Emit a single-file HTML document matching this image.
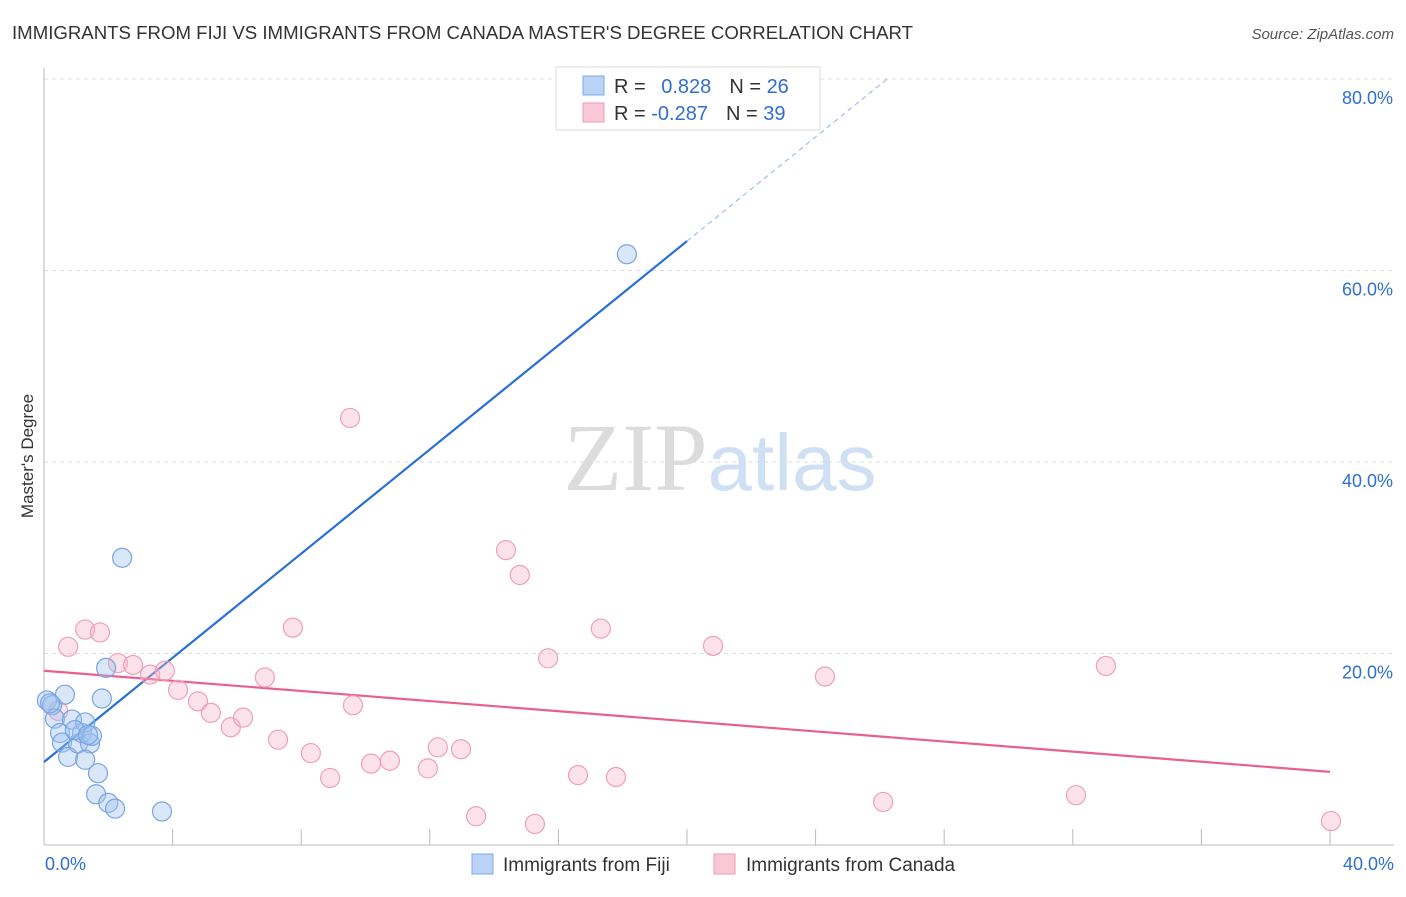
<!DOCTYPE html>
<html><head><meta charset="utf-8">
<style>
body{margin:0;background:#fff;font-family:"Liberation Sans",sans-serif;}
svg text{font-family:"Liberation Sans",sans-serif;}
</style></head>
<body>
<svg id="chart" width="1406" height="892" xmlns="http://www.w3.org/2000/svg">
<text x="12" y="39" font-size="18" fill="#333" textLength="901" lengthAdjust="spacingAndGlyphs">IMMIGRANTS FROM FIJI VS IMMIGRANTS FROM CANADA MASTER'S DEGREE CORRELATION CHART</text>
<text x="1394" y="39" font-size="15" fill="#555" text-anchor="end" font-style="italic">Source: ZipAtlas.com</text>
<text x="720" y="490" font-size="96" text-anchor="middle"><tspan fill="#dcdcdc" font-family="Liberation Serif">ZIP</tspan><tspan fill="#cfe0f5" font-size="80">atlas</tspan></text>
<text transform="translate(33,456) rotate(-90)" font-size="17" fill="#333" text-anchor="middle">Master's Degree</text>
<g id="grid"></g><g id="axes"></g><g id="lines"></g><g id="points"></g>
<g>
<rect x="556" y="67" width="264" height="63" fill="#fff" stroke="#ddd"/>
<rect x="583" y="76" width="21" height="19" fill="#b8d3f5" stroke="#7ea9e6"/>
<text x="614" y="93" font-size="20" fill="#333">R = <tspan fill="#2f6fd0" dx="10">0.828</tspan><tspan dx="18" fill="#333">N = </tspan><tspan fill="#2f6fd0">26</tspan></text>
<rect x="583" y="103" width="21" height="19" fill="#f9c7d5" stroke="#ee9ab4"/>
<text x="614" y="120" font-size="20" fill="#333">R = <tspan fill="#2f6fd0">-0.287</tspan><tspan dx="18" fill="#333">N = </tspan><tspan fill="#2f6fd0">39</tspan></text>
</g>
<g>
<rect x="472" y="854" width="21" height="20" fill="#b8d3f5" stroke="#7ea9e6"/>
<text x="503" y="871" font-size="19" fill="#333">Immigrants from Fiji</text>
<rect x="714" y="854" width="21" height="20" fill="#f9c7d5" stroke="#ee9ab4"/>
<text x="746" y="871" font-size="19" fill="#333">Immigrants from Canada</text>
</g>
</svg>
<script>
const fijiX=[0.09,0.25,0.65,0.34,0.5,0.87,0.56,0.75,1.06,1.18,1.28,1.43,1.49,1.28,1.68,1.62,2.0,2.21,1.8,1.93,2.43,3.67,18.13,0.19,0.96,1.37];
const fijiY=[15.1,14.6,15.7,13.2,11.7,13.1,10.7,9.2,10.6,11.7,12.8,10.6,11.4,8.9,7.5,5.3,4.4,3.8,15.3,18.5,30.0,3.5,61.7,14.8,12.0,11.5];
const canX=[0.75,1.28,1.74,2.3,2.77,3.3,3.76,4.17,4.79,5.19,5.81,6.19,6.87,7.28,7.74,8.3,8.9,9.52,9.61,10.17,10.76,11.94,12.25,12.97,13.44,14.37,14.8,15.27,15.68,16.61,17.32,17.79,20.81,24.29,26.1,32.1,33.03,40.03,0.44];
const canY=[20.7,22.5,22.2,19.0,18.8,17.8,18.2,16.2,15.0,13.8,12.3,13.3,17.5,11.0,22.7,9.6,7.0,44.6,14.6,8.5,8.8,8.0,10.2,10.0,3.0,30.8,28.2,2.2,19.5,7.3,22.6,7.1,20.8,17.6,4.5,5.2,18.7,2.5,14.0];
const yTicks=[20,40,60,80];
const yTickLabels=["20.0%","40.0%","60.0%","80.0%"];
const xTickLabels=["0.0%","40.0%"];
const fijiLine=[8.67,2.72]; const canLine=[18.2,-0.264];
const X=v=>44+v*32.15, Y=v=>845-v*9.575;
const NS="http://www.w3.org/2000/svg";
function mk(p,t,a){const e=document.createElementNS(NS,t);for(const k in a)e.setAttribute(k,a[k]);document.getElementById(p).appendChild(e);return e;}
yTicks.forEach((t,i)=>{
 const l=mk("grid","line",{x1:44,x2:1394,y1:Y(t),y2:Y(t),stroke:"#ddd","stroke-dasharray":"4,4"});
 
 
 const tx=mk("grid","text",{x:1393,y:Y(t)+25,"font-size":18,fill:"#2f6fd0","text-anchor":"end"});tx.textContent=yTickLabels[i];
 
 
});
mk("axes","line",{x1:44,x2:44,y1:68,y2:845,stroke:"#bbb"});
mk("axes","line",{x1:44,x2:1394,y1:845,y2:845,stroke:"#bbb"});
for(let i=1;i<=10;i++){const t=mk("axes","line",{x1:X(i*4),x2:X(i*4),y1:829,y2:845,stroke:"#bbb"});
 
 }
[[0,"start",45],[40,"end",1394]].forEach((d,i)=>{const t=mk("axes","text",{x:d[2],y:870,"font-size":18,fill:"#2f6fd0","text-anchor":d[1]});t.textContent=xTickLabels[i];
 
 });
let l1=mk("lines","line",{x1:X(0),y1:Y(fijiLine[0]),x2:X(20),y2:Y(fijiLine[0]+fijiLine[1]*20),stroke:"#2a6fd6","stroke-width":2.2});


let l1d=mk("lines","line",{x1:X(20),y1:Y(fijiLine[0]+fijiLine[1]*20),x2:X(26.3),y2:Y(fijiLine[0]+fijiLine[1]*26.3),stroke:"#8fb3e6","stroke-width":1,"stroke-dasharray":"5,4"});


let l2=mk("lines","line",{x1:X(0),y1:Y(canLine[0]),x2:X(40),y2:Y(canLine[0]+canLine[1]*40),stroke:"#e8618c","stroke-width":2.2});


canX.forEach((x,i)=>{const c=mk("points","circle",{cx:X(x),cy:Y(canY[i]),r:9.5,fill:"rgba(246,180,200,0.38)",stroke:"#efa0b8","stroke-width":1.2});
 
 });
fijiX.forEach((x,i)=>{const c=mk("points","circle",{cx:X(x),cy:Y(fijiY[i]),r:9.5,fill:"rgba(160,195,240,0.4)",stroke:"#78a5e2","stroke-width":1.2});
 
 });
</script>
</body></html>
